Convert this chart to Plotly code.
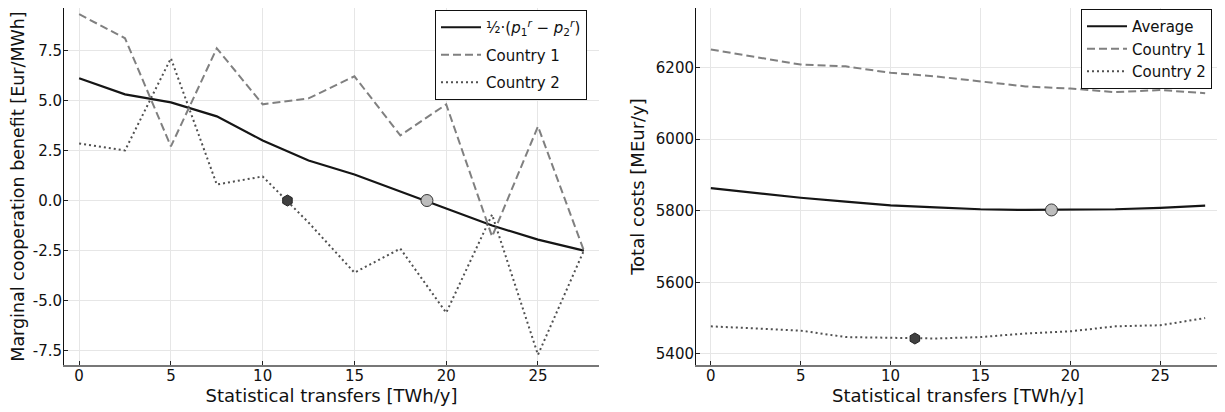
import plotly.graph_objects as go

# ---- data ----
x_transfers = [0, 2.5, 5, 7.5, 10, 12.5, 15, 17.5, 20, 22.5, 25, 27.5]

benefit_avg = [6.1, 5.3, 4.9, 4.2, 3.0, 2.0, 1.3, 0.43, -0.4, -1.25, -1.95, -2.5]
benefit_c1 = [9.3, 8.1, 2.7, 7.6, 4.8, 5.1, 6.2, 3.25, 4.8, -1.8, 3.7, -2.5]
benefit_c2 = [2.85, 2.5, 7.1, 0.8, 1.2, -1.1, -3.6, -2.4, -5.6, -0.7, -7.7, -2.5]

cost_c1 = [6250, 6228, 6208, 6203, 6185, 6175, 6162, 6147, 6141, 6131, 6137, 6128]
cost_c2 = [5477, 5471, 5465, 5447, 5445, 5443, 5447, 5457, 5463, 5477, 5480, 5500]
cost_avg = [5863, 5849, 5836, 5825, 5815, 5809, 5804, 5802, 5802, 5804, 5808, 5814]

coop_x = 18.95        # optimum of cooperation (average)
coop_benefit = 0.0
coop_cost = 5802
c2_x = 11.35          # optimum of country 2
c2_benefit = 0.0
c2_cost = 5443

left_yticks = [-7.5, -5.0, -2.5, 0.0, 2.5, 5.0, 7.5]
left_yticklabels = ["-7.5", "-5.0", "-2.5", "0.0", "2.5", "5.0", "7.5"]
right_yticks = [5400, 5600, 5800, 6000, 6200]
xticks = [0, 5, 10, 15, 20, 25]

FONT = "DejaVu Sans"
C_AVG = "#151515"
C_C1 = "#808080"
C_C2 = "#505050"
DASH = "8px,4px"
DOT = "2px,3px"

# page has an 8px body margin, so the figure is 8px smaller in each direction
W, H = 1217, 404
ML, MR, MT, MB = 56, 5, 0, 47
PW = W - ML - MR
PH = H - MT - MB

fig = go.Figure()

# ---- left panel ----
fig.add_trace(go.Scatter(x=x_transfers, y=benefit_avg, mode="lines",
                         name="½·(<i>p</i><sub>1</sub><sup><i>r</i></sup> − <i>p</i><sub>2</sub><sup><i>r</i></sup>)",
                         legendgroup="a", line=dict(color=C_AVG, width=2.2),
                         xaxis="x", yaxis="y", legend="legend"))
fig.add_trace(go.Scatter(x=x_transfers, y=benefit_c1, mode="lines", name="Country 1",
                         legendgroup="b", line=dict(color=C_C1, width=2, dash=DASH),
                         xaxis="x", yaxis="y", legend="legend"))
fig.add_trace(go.Scatter(x=x_transfers, y=benefit_c2, mode="lines", name="Country 2",
                         legendgroup="c", line=dict(color=C_C2, width=2, dash=DOT),
                         xaxis="x", yaxis="y", legend="legend"))
fig.add_trace(go.Scatter(x=[c2_x], y=[c2_benefit], mode="markers", showlegend=False,
                         marker=dict(symbol="hexagon", size=11, color="#404040",
                                     line=dict(color="#222", width=1)), xaxis="x", yaxis="y"))
fig.add_trace(go.Scatter(x=[coop_x], y=[coop_benefit], mode="markers", showlegend=False,
                         marker=dict(symbol="circle", size=12, color="#bdbdbd",
                                     line=dict(color="#333", width=1)), xaxis="x", yaxis="y"))

# ---- right panel ----
fig.add_trace(go.Scatter(x=x_transfers, y=cost_avg, mode="lines", name="Average",
                         legendgroup="d", line=dict(color=C_AVG, width=2.2),
                         xaxis="x2", yaxis="y2", legend="legend2"))
fig.add_trace(go.Scatter(x=x_transfers, y=cost_c1, mode="lines", name="Country 1",
                         legendgroup="e", line=dict(color=C_C1, width=2, dash=DASH),
                         xaxis="x2", yaxis="y2", legend="legend2"))
fig.add_trace(go.Scatter(x=x_transfers, y=cost_c2, mode="lines", name="Country 2",
                         legendgroup="f", line=dict(color=C_C2, width=2, dash=DOT),
                         xaxis="x2", yaxis="y2", legend="legend2"))
fig.add_trace(go.Scatter(x=[c2_x], y=[c2_cost], mode="markers", showlegend=False,
                         marker=dict(symbol="hexagon", size=11, color="#404040",
                                     line=dict(color="#222", width=1)), xaxis="x2", yaxis="y2"))
fig.add_trace(go.Scatter(x=[coop_x], y=[coop_cost], mode="markers", showlegend=False,
                         marker=dict(symbol="circle", size=12, color="#bdbdbd",
                                     line=dict(color="#333", width=1)), xaxis="x2", yaxis="y2"))

xaxis_common = dict(
    range=[-0.825, 28.325], tickvals=xticks, ticks="inside", ticklen=4, tickcolor="#222",
    showgrid=True, gridcolor="#e6e6e6", gridwidth=1, zeroline=False,
    showline=True, linecolor="#777", linewidth=2, mirror=False,
    tickfont=dict(family=FONT, size=15, color="#111"), ticklabelstandoff=-4,
    title=dict(text="Statistical transfers [TWh/y]", font=dict(family=FONT, size=18, color="#111"), standoff=0),
)
yaxis_common = dict(
    ticks="inside", ticklen=4, tickcolor="#222",
    showgrid=True, gridcolor="#e6e6e6", gridwidth=1, zeroline=False,
    showline=True, linecolor="#111", linewidth=1, mirror=False,
    tickfont=dict(family=FONT, size=15, color="#111"), ticklabelstandoff=-2,
)

legend_common = dict(xanchor="right", yanchor="top", bgcolor="white", bordercolor="#111",
                     borderwidth=1, font=dict(family=FONT, size=15, color="#111"),
                     xref="paper", yref="paper", itemwidth=40)

fig.update_layout(
    width=W, height=H,
    margin=dict(l=ML, r=MR, t=MT, b=MB),
    paper_bgcolor="white", plot_bgcolor="white",
    font=dict(family=FONT, color="#111"),
    xaxis=dict(domain=[0, (591 - ML) / PW], anchor="y", **xaxis_common),
    yaxis=dict(domain=[0, 1], anchor="x", range=[-8.21, 9.61],
               tickvals=left_yticks, ticktext=left_yticklabels,
               title=dict(text="Marginal cooperation benefit [Eur/MWh]",
                          font=dict(family=FONT, size=17.5, color="#111"), standoff=10),
               **yaxis_common),
    xaxis2=dict(domain=[(688 - ML) / PW, 1], anchor="y2", **xaxis_common),
    yaxis2=dict(domain=[0, 1], anchor="x2", range=[5369, 6366],
                tickvals=right_yticks,
                title=dict(text="Total costs [MEur/y]",
                           font=dict(family=FONT, size=18, color="#111"), standoff=6),
                **yaxis_common),
    legend=dict(x=(579 - ML) / PW, y=1 - 2 / PH, tracegroupgap=5, **legend_common),
    legend2=dict(x=(1204 - ML) / PW, y=1 - 1 / PH, tracegroupgap=0, **legend_common),
    showlegend=True,
)

fig.write_html("out.html")
